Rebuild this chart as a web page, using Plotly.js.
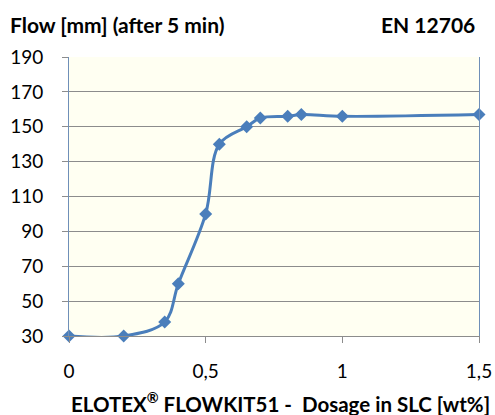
<!DOCTYPE html>
<html><head><meta charset="utf-8">
<script src="https://cdn.plot.ly/plotly-3.0.1.min.js"></script>
<style>html,body{margin:0;padding:0;background:#fff}#c{width:495px;height:415px}</style>
</head><body><div id="c"></div>
<script>
const dosage = [0, 0.2, 0.35, 0.4, 0.5, 0.55, 0.65, 0.7, 0.8, 0.85, 1.0, 1.5];
const flow = [30, 30, 38, 60, 100, 140, 150, 155, 156, 157, 156, 157];
const yTicks = [30, 50, 70, 90, 110, 130, 150, 170, 190];
const xTicks = [0, 0.5, 1, 1.5];
const xTickText = ["0", "0,5", "1", "1,5"];
const chartTitle = "Flow [mm] (after 5 min)";
const normText = "EN 12706";
const xTitle = "ELOTEX<sup>®</sup> FLOWKIT51 -  Dosage in SLC [wt%]";

const FONT = "Lato, 'Open Sans', sans-serif";
const trace = {
  x: dosage, y: flow, type: 'scatter', mode: 'lines+markers',
  line: {shape: 'spline', smoothing: 1, color: '#4A7EBB', width: 3},
  marker: {symbol: 'diamond', size: 10, color: '#4A7EBB'},
  cliponaxis: false, hoverinfo: 'skip'
};
const layout = {
  width: 495, height: 415,
  margin: {l: 69, r: 16, t: 57, b: 79, pad: 0},
  paper_bgcolor: '#ffffff', plot_bgcolor: '#FFFFF2',
  showlegend: false,
  font: {family: FONT, size: 19, color: '#000'},
  xaxis: {
    range: [0, 1.5], tickvals: xTicks, ticktext: xTickText,
    showgrid: false, zeroline: false, showline: true, linecolor: '#8C8C8C', linewidth: 1,
    ticks: 'outside', ticklen: 6, tickcolor: '#8C8C8C', ticklabelstandoff: 12,
    tickfont: {family: FONT, size: 19}
  },
  yaxis: {
    range: [30, 190], tickvals: yTicks,
    showgrid: true, gridcolor: '#8C8C8C', gridwidth: 1, zeroline: false,
    showline: true, linecolor: '#6F8FB8', linewidth: 1, mirror: true,
    ticks: 'outside', ticklen: 6, tickcolor: '#8C8C8C', ticklabelstandoff: 15,
    tickfont: {family: FONT, size: 19}
  },
  annotations: [
    {text: '<b>' + chartTitle + '</b>', xref: 'paper', yref: 'paper', x: -0.149, y: 1.0, xanchor: 'left', yanchor: 'bottom', yshift: 18, showarrow: false, font: {family: FONT, size: 21}},
    {text: '<b>' + normText + '</b>', xref: 'paper', yref: 'paper', x: 0.995, y: 1.0, xanchor: 'right', yanchor: 'bottom', yshift: 18, showarrow: false, font: {family: FONT, size: 21}},
    {text: '<b>' + xTitle + '</b>', xref: 'paper', yref: 'paper', x: 0.515, y: 0, xanchor: 'center', yanchor: 'middle', yshift: -66, showarrow: false, font: {family: FONT, size: 20.5}}
  ]
};
Plotly.newPlot('c', [trace], layout, {staticPlot: true, displayModeBar: false});
</script></body></html>
